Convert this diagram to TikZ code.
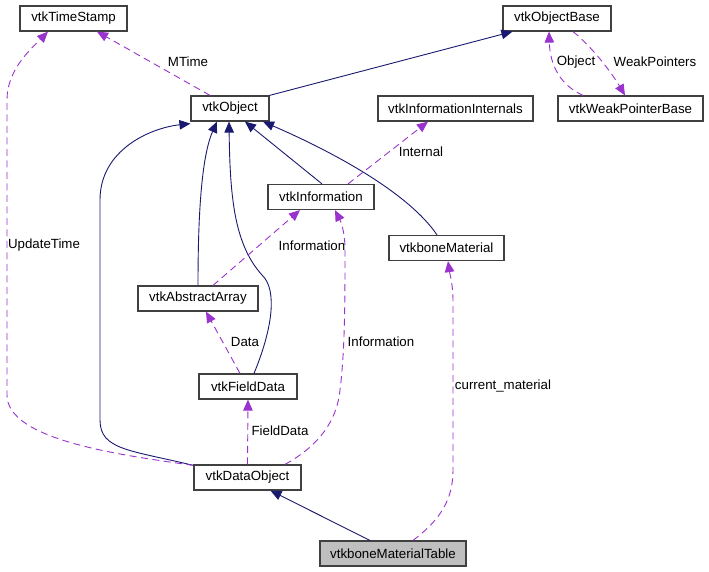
\documentclass[tikz,border=0pt]{standalone}
\usepackage{fontspec}
\setmainfont{Liberation Sans}
\usetikzlibrary{arrows.meta}
\definecolor{navy}{HTML}{191970}
\definecolor{purp}{HTML}{9A32CD}
\definecolor{boxline}{HTML}{404040}
\begin{document}
\begin{tikzpicture}[x=1pt,y=-1pt,
  box/.style={draw=boxline,line width=1.2pt,fill=white,minimum height=25pt,inner sep=0pt,font=\fontsize{13.3}{16}\selectfont},
  inh/.style={navy,line width=0.9pt,-{Triangle[length=11pt,width=9.5pt]}},
  use/.style={purp,line width=0.9pt,dash pattern=on 7pt off 4.5pt,-{Triangle[length=11pt,width=9.5pt]}},
  lbl/.style={font=\fontsize{13.3}{16}\selectfont,inner sep=0pt}]
\useasboundingbox (0,0) rectangle (709,572);
\node[box,minimum width=107pt] (ts) at (73.5,18.5) {vtkTimeStamp};
\node[box,minimum width=78pt] (obj) at (230,108.5) {vtkObject};
\node[box,minimum width=108pt] (ob) at (557,18.5) {vtkObjectBase};
\node[box,minimum width=155pt] (ii) at (455.5,108.5) {vtkInformationInternals};
\node[box,minimum width=145pt] (wpb) at (630.5,108.5) {vtkWeakPointerBase};
\node[box,minimum width=106pt] (info) at (321,197) {vtkInformation};
\node[box,minimum width=115pt] (bm) at (446.5,248) {vtkboneMaterial};
\node[box,minimum width=120pt] (aa) at (198,298.5) {vtkAbstractArray};
\node[box,minimum width=98pt] (fd) at (248,386.5) {vtkFieldData};
\node[box,minimum width=107pt] (do) at (247.5,477.5) {vtkDataObject};
\node[box,minimum width=146pt,fill={rgb,255:red,191;green,191;blue,191}] (bmt) at (393,553.5) {vtkboneMaterialTable};

% inheritance
\draw[inh] (obj.north east) -- ([xshift=10pt]ob.south west);
\draw[inh] ([xshift=1pt]info.north) -- ([xshift=15pt]obj.south);
\draw[inh] ([xshift=-9.5pt]bm.north) .. controls (410,195) and (340,155) .. ([xshift=33pt]obj.south);
\draw[inh] (aa.north) .. controls (198,230) and (200,160) .. ([xshift=-13pt]obj.south);
\draw[inh] ([xshift=6pt]fd.north) .. controls (272,330) and (278,290) .. (262,275) .. controls (235,245) and (230,200) .. ([xshift=-1pt]obj.south);
\draw[inh] ([yshift=-1pt]do.north west) .. controls (130,450) and (100,450) .. (100,420) -- (100,200) .. controls (100,150) and (150,128) .. ([yshift=-2pt]obj.south west);
\draw[inh] ([xshift=-23pt]bmt.north) -- ([xshift=23pt]do.south);

% usage
\draw[use] ([xshift=-20pt]obj.north) -- ([xshift=23.5pt]ts.south);
\node[lbl] (lmtime) at (188,62) {MTime};
\draw[use] ([yshift=-1pt]do.north west) .. controls (120,455) and (7,440) .. (7,395) -- (7,100) .. controls (7,70) and (30,50) .. ([xshift=-25.5pt]ts.south);
\node[lbl] (lupd) at (44,245) {UpdateTime};
\draw[use] ([xshift=-47.5pt]wpb.north) .. controls (560,85) and (550,65) .. ([xshift=-8pt]ob.south);
\node[lbl] (lobject) at (576,62) {Object};
\draw[use] ([xshift=16pt]ob.south) .. controls (590,45) and (610,70) .. ([xshift=-5.5pt]wpb.north);
\node[lbl] (lweak) at (655,62) {WeakPointers};
\draw[use] ([xshift=27pt]info.north) -- ([xshift=-27.5pt]ii.south);
\node[lbl] (lint) at (421,152) {Internal};
\draw[use] ([xshift=15pt]aa.north) -- ([xshift=-21pt]info.south);
\node[lbl] (linfo1) at (312,246) {Information};
\draw[use] ([xshift=37.5pt]do.north) .. controls (320,445) and (337,420) .. (340,390) .. controls (345,350) and (345,300) .. (345,250) .. controls (345,230) and (340,220) .. ([xshift=14pt]info.south);
\node[lbl] (linfo2) at (381,342) {Information};
\draw[use] ([xshift=-8pt]fd.north) -- ([xshift=8pt]aa.south);
\node[lbl] (ldata) at (245,342) {Data};
\draw[use] (do.north) -- (fd.south);
\node[lbl] (lfd) at (280,431) {FieldData};
\draw[use] ([xshift=20pt]bmt.north) .. controls (440,520) and (453,500) .. (453,470) -- (453,300) .. controls (453,285) and (450,275) .. ([xshift=1.5pt]bm.south);
\node[lbl] (lcm) at (503,386) {current\_material};
\end{tikzpicture}
\end{document}
